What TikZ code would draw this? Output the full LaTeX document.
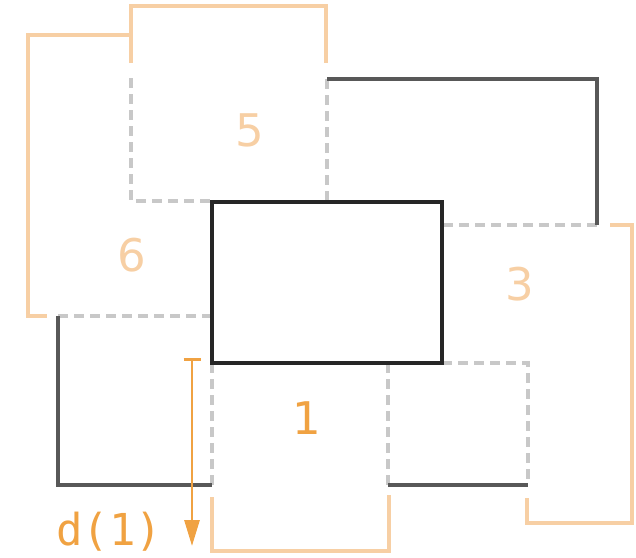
\documentclass[tikz,border=0pt]{standalone}
\usepackage{fontspec}
\setmainfont{DejaVu Sans}
\newfontfamily\labelmono{DejaVu Sans Mono}
\usepackage{xcolor}
\usepackage{tikz}
\usetikzlibrary{arrows.meta}

\definecolor{edgeorange}{RGB}{247,207,164}
\definecolor{darkorange}{RGB}{240,162,66}
\definecolor{hidgray}{RGB}{200,200,200}
\definecolor{wallgray}{RGB}{88,88,88}

\begin{document}
\begin{tikzpicture}[
  x=1pt, y=-1pt,
  every node/.style={font=\fontsize{45}{54}\selectfont, inner sep=0pt},
  edgeline/.style={draw=edgeorange, line width=3.2pt},
  hidline/.style={draw=hidgray, line width=3.2pt, dash pattern=on 10pt off 6pt},
  wallline/.style={draw=wallgray, line width=3.2pt},
  boxline/.style={draw=black!85, line width=3.8pt},
  arr/.style={{Bar[width=17pt,line width=2.8pt]}-{Triangle[length=26pt,width=15pt]}, draw=darkorange, line width=2.8pt},
]
\useasboundingbox (0,0) rectangle (636,557);

% Outer outlines (orange)
\draw[edgeline] (131,63) -- (131,6) -- (326,6) -- (326,63);
\draw[edgeline] (131,35) -- (28,35) -- (28,316) -- (47,316);
\draw[edgeline] (610,225) -- (632,225) -- (632,523) -- (527,523) -- (527,498);
\draw[edgeline] (212,497) -- (212,551) -- (389,551) -- (389,495);

% Hidden edges (dashed)
\draw[hidline] (131,78) -- (131,201) -- (212,201);
\draw[hidline] (327,79) -- (327,201);
\draw[hidline] (443,225) -- (597,225);
\draw[hidline] (58,316) -- (212,316);
\draw[hidline] (212,363) -- (212,485);
\draw[hidline] (388,363) -- (388,485);
\draw[hidline] (442,363) -- (528,363) -- (528,485);

% Neighbour walls (dark gray)
\draw[wallline] (327,79) -- (597,79) -- (597,225);
\draw[wallline] (58,316) -- (58,485) -- (212,485);
\draw[wallline] (388,485) -- (528,485);

% Central box
\draw[boxline] (212,202) rectangle (442,363);

% Labels
\node[text=edgeorange] (five) at (250,130) {5};
\node[text=edgeorange] (six) at (132,255) {6};
\node[text=edgeorange] (three) at (520,284) {3};
\node[text=darkorange] (one) at (307,418) {1};
\node[text=darkorange, anchor=base west, font=\labelmono\fontsize{44}{50}\selectfont] (dlabel) at (56,545) {d(1)};

% Arrow: d(1)
\coordinate (dtop) at (192,358);
\coordinate (dbot) at (192,546);
\draw[arr] (dtop) -- (dbot);

\end{tikzpicture}
\end{document}
